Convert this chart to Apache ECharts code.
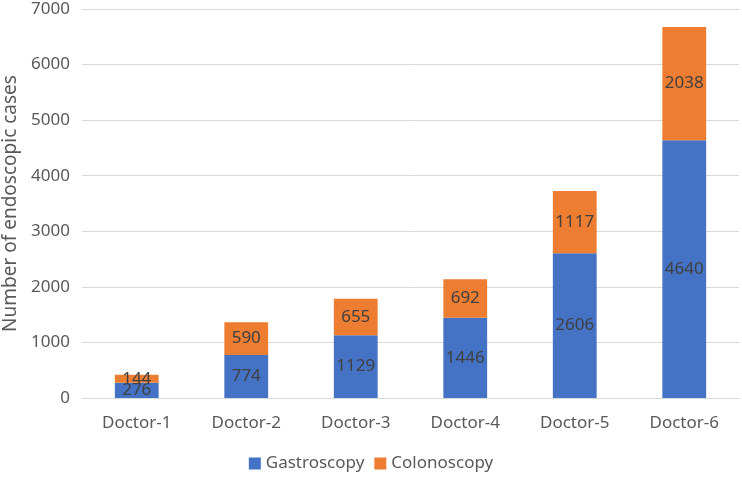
<!DOCTYPE html>
<html><head><meta charset="utf-8">
<script src="https://cdn.jsdelivr.net/npm/echarts@6/dist/echarts.min.js"></script>
<style>html,body{margin:0;padding:0;background:#fff}#c{width:742px;height:478px}</style>
</head><body><div id="c"></div>
<script>
const categories = ['Doctor-1','Doctor-2','Doctor-3','Doctor-4','Doctor-5','Doctor-6'];
const gastroscopy = [276, 774, 1129, 1446, 2606, 4640];
const colonoscopy = [144, 590, 655, 692, 1117, 2038];
const yTicks = [0, 1000, 7000];
const chart = echarts.init(document.getElementById('c'));
const font = '"Noto Sans", sans-serif';
const lbl = {show:true, position:'inside', color:'#404040', fontSize:17, fontFamily:font};
chart.setOption({
  animation:false,
  textStyle:{fontFamily:font},
  grid:{left:82, right:3, top:9, bottom:80, outerBoundsMode:'none', containLabel:false},
  legend:{bottom:1, left:'center', itemWidth:12, itemHeight:12, itemGap:10, icon:'rect',
    textStyle:{color:'#595959', fontSize:17, fontFamily:font}},
  xAxis:{type:'category', data:categories,
    axisLine:{lineStyle:{color:'#d9d9d9'}}, axisTick:{show:false},
    axisLabel:{color:'#595959', fontSize:17, margin:17, fontFamily:font}},
  yAxis:{type:'value', min:yTicks[0], max:yTicks[2], interval:yTicks[1],
    name:'Number of endoscopic cases', nameLocation:'middle', nameGap:62, nameRotate:90,
    nameTextStyle:{color:'#595959', fontSize:19, fontFamily:font},
    axisLine:{show:false}, axisTick:{show:false},
    axisLabel:{color:'#595959', fontSize:17, margin:12, fontFamily:font, formatter:v=>String(v)},
    splitLine:{lineStyle:{color:'#d9d9d9'}}},
  series:[
    {name:'Gastroscopy', type:'bar', stack:'a', data:gastroscopy, barWidth:'40%',
      itemStyle:{color:'#4472C4'}, label:lbl},
    {name:'Colonoscopy', type:'bar', stack:'a', data:colonoscopy, barWidth:'40%',
      itemStyle:{color:'#ED7D31'}, label:lbl}
  ]
});
</script></body></html>
